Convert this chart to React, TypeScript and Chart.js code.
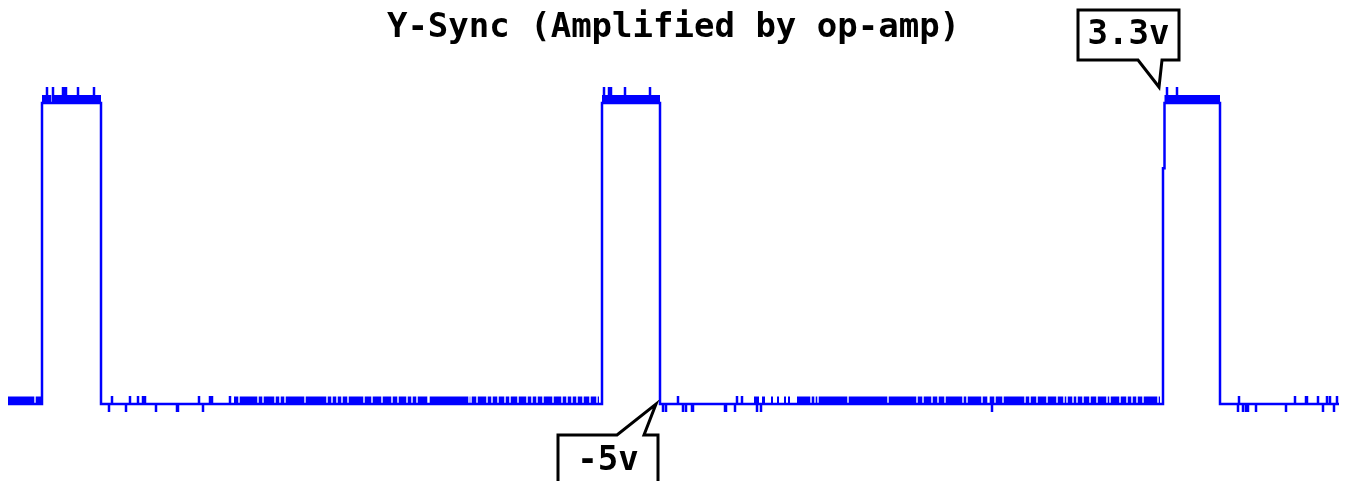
import React, { useEffect, useRef } from "react";
import { Chart, registerables } from "chart.js";

Chart.register(...registerables);

const TITLE = "Y-Sync (Amplified by op-amp)";

// Voltage levels (V)
const LOW = -5;
const HIGH = 3.3;

// Time axis (samples)
const startTime = 8;
const endTime = 1339;
const timeMin = 0;
const timeMax = 1347;

// Voltage axis range
const voltMin = -7.1233;
const voltMax = 4.7945;

// Level transitions: time of edge and level after it
const edgeTimes = [42, 101, 602, 660, 1163, 1164.5, 1220];
const edgeLevels = [3.3, -5, 3.3, -5, 1.5, 3.3, -5];

// Glitches riding on the high level
const highSpikes = [47, 53, 63, 64, 65, 66, 78, 94, 604, 609, 611, 625, 650, 1167, 1177];
const highSpikePeak = 3.74;

// Glitches riding on the low level
const lowSpikesUp = [112, 130, 138, 143, 145, 199, 210, 212, 230, 678, 737, 742, 1239, 1295, 1306, 1307, 1318, 1327, 1330, 1337];
const lowSpikeUpPeak = -4.78;
const lowSpikesDown = [109, 126, 156, 177, 178, 203, 663, 666, 683, 686, 692, 693, 725, 726, 735, 757, 761, 992, 1238, 1243, 1246, 1248, 1256, 1286, 1323, 1334];
const lowSpikeDownPeak = -5.22;

// Dense noise bursts (time ranges)
const highNoiseRanges: [number, number][] = [[42, 101], [602, 660], [1164.5, 1220]];
const highNoiseLevel = 3.3965;
const lowNoiseRanges: [number, number][] = [
  [8, 42], [234, 599], [754, 759], [762, 765], [771, 773], [777, 779], [784, 786], [788, 790], [797, 1160],
];
const lowNoiseLevel = -4.9035;
const noiseGaps = [
  35, 52, 239, 258, 263, 275, 280, 285, 305, 327, 332, 337, 342, 348, 364, 372, 382, 392, 398, 407, 412, 417,
  428, 429, 469, 471, 477, 487, 492, 498, 505, 510, 518, 527, 532, 537, 543, 553, 562, 567, 572, 577, 583, 590, 597,
  811, 815, 818, 848, 888, 917, 923, 932, 938, 945, 963, 967, 982, 988, 989, 995, 1003, 1025, 1030, 1037, 1047, 1057,
  1064, 1067, 1073, 1077, 1083, 1090, 1097, 1107, 1110, 1120, 1127, 1132, 1137, 1143, 1158,
];

// Annotations
const calloutLabels = ["3.3v", "-5v"];
const calloutTimes = [1159, 656];
const calloutVolts = [3.74, -5];

type Pt = { x: number; y: number | null };

function buildTrace(): Pt[] {
  const bounds = [startTime, ...edgeTimes, endTime];
  const levels = [LOW, ...edgeLevels];
  const pts: Pt[] = [];
  for (let i = 0; i < levels.length; i++) {
    const a = bounds[i];
    const b = bounds[i + 1];
    const L = levels[i];
    pts.push({ x: a, y: L });
    const events: { x: number; peak: number }[] = [];
    if (L === HIGH) highSpikes.forEach((s) => { if (s > a && s < b) events.push({ x: s, peak: highSpikePeak }); });
    if (L === LOW) {
      lowSpikesUp.forEach((s) => { if (s > a && s < b) events.push({ x: s, peak: lowSpikeUpPeak }); });
      lowSpikesDown.forEach((s) => { if (s > a && s < b) events.push({ x: s, peak: lowSpikeDownPeak }); });
    }
    events.sort((p, q) => p.x - q.x);
    events.forEach((e) => {
      pts.push({ x: e.x, y: L });
      pts.push({ x: e.x, y: e.peak });
      pts.push({ x: e.x, y: L });
    });
    pts.push({ x: b, y: L });
  }
  return pts;
}

function buildNoise(ranges: [number, number][], level: number): Pt[] {
  const pts: Pt[] = [];
  ranges.forEach(([a, b]) => {
    const cuts = noiseGaps.filter((g) => g > a && g < b);
    let s = a;
    cuts.forEach((g) => {
      pts.push({ x: s, y: level });
      pts.push({ x: g - 0.7, y: level });
      pts.push({ x: g, y: null });
      s = g + 0.7;
    });
    pts.push({ x: s, y: level });
    pts.push({ x: b, y: level });
    pts.push({ x: b + 0.5, y: null });
  });
  return pts;
}

const calloutPlugin = {
  id: "callouts",
  afterDraw(chart: any) {
    const ctx = chart.ctx as CanvasRenderingContext2D;
    const xs = chart.scales.x;
    const ys = chart.scales.y;
    calloutLabels.forEach((label, i) => {
      const tx = xs.getPixelForValue(calloutTimes[i]);
      const ty = ys.getPixelForValue(calloutVolts[i]);
      ctx.save();
      ctx.beginPath();
      let cx: number, cy: number;
      if (i === 0) {
        const L = tx - 81, R = tx + 20, T = ty - 77, B = ty - 27;
        ctx.moveTo(L, T);
        ctx.lineTo(R, T);
        ctx.lineTo(R, B);
        ctx.lineTo(tx + 3, B);
        ctx.lineTo(tx, ty);
        ctx.lineTo(tx - 21, B);
        ctx.lineTo(L, B);
        ctx.closePath();
        cx = (L + R) / 2;
        cy = (T + B) / 2;
      } else {
        const L = tx - 98, R = tx + 2, T = ty + 31, B = ty + 90;
        ctx.moveTo(L, T);
        ctx.lineTo(tx - 39, T);
        ctx.lineTo(tx, ty);
        ctx.lineTo(tx - 12, T);
        ctx.lineTo(R, T);
        ctx.lineTo(R, B);
        ctx.lineTo(L, B);
        ctx.closePath();
        cx = (L + R) / 2;
        cy = ty + 57;
      }
      ctx.fillStyle = "#ffffff";
      ctx.fill();
      ctx.lineWidth = 3;
      ctx.lineJoin = "miter";
      ctx.strokeStyle = "#000000";
      ctx.stroke();
      ctx.fillStyle = "#000000";
      ctx.font = "bold 34px 'DejaVu Sans Mono'";
      ctx.textAlign = "center";
      ctx.textBaseline = "middle";
      ctx.fillText(label, cx, cy);
      ctx.restore();
    });
  },
};

export default function App() {
  const ref = useRef<HTMLCanvasElement | null>(null);
  useEffect(() => {
    if (!ref.current) return;
    const chart = new Chart(ref.current, {
      type: "line",
      data: {
        datasets: [
          {
            data: buildNoise(lowNoiseRanges, lowNoiseLevel) as any,
            borderColor: "#0000ff",
            borderWidth: 8,
            pointRadius: 0,
            spanGaps: false,
          },
          {
            data: buildNoise(highNoiseRanges, highNoiseLevel) as any,
            borderColor: "#0000ff",
            borderWidth: 9,
            pointRadius: 0,
            spanGaps: false,
          },
          {
            data: buildTrace() as any,
            borderColor: "#0000ff",
            borderWidth: 2.5,
            pointRadius: 0,
          },
        ],
      },
      options: {
        animation: false,
        responsive: true,
        maintainAspectRatio: false,
        layout: { padding: 0 },
        plugins: {
          legend: { display: false },
          tooltip: { enabled: false },
          title: {
            display: true,
            text: TITLE,
            color: "#000000",
            font: { family: "'DejaVu Sans Mono'", size: 34, weight: "bold", lineHeight: 1.2 },
            padding: { top: 8, bottom: 0 },
          },
        },
        scales: {
          x: { type: "linear", display: false, min: timeMin, max: timeMax },
          y: { type: "linear", display: false, min: voltMin, max: voltMax },
        },
        elements: { line: { tension: 0 } },
      },
      plugins: [calloutPlugin],
    });
    return () => chart.destroy();
  }, []);
  return (
    <div style={{ position: "fixed", left: 0, top: 0, width: 1347, height: 481, background: "#ffffff" }}>
      <canvas ref={ref} />
    </div>
  );
}
